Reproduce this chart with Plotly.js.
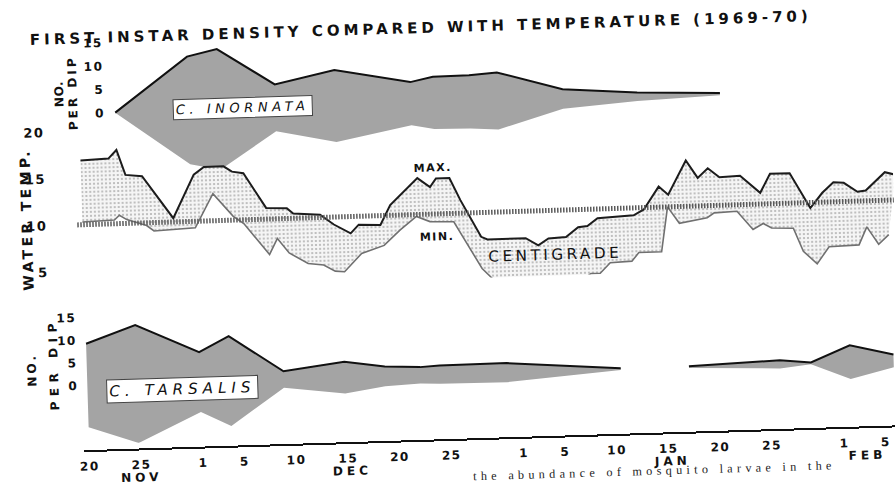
<!DOCTYPE html>
<html><head><meta charset="utf-8">
<script src="https://cdn.plot.ly/plotly-3.0.1.min.js"></script>
<style>
html,body{margin:0;padding:0;background:#fff;overflow:hidden;}
#chart{width:895px;height:486px;transform:rotate(-1.75deg);transform-origin:447.5px 243px;}
text{letter-spacing:1.5px;}
.gtitle{letter-spacing:4px;}
text[style*="font-size: 13.1px"]{letter-spacing:4.5px;}
text[style*="font-size: 15.1px"]{letter-spacing:5px;}
text[style*="font-size: 15.2px"]{letter-spacing:3.5px;}
text[style*="font-size: 14.1px"]{letter-spacing:3.3px;}
text[style*="font-size: 12.01px"]{letter-spacing:0.5px;}
text[style*="font-size: 12.02px"]{letter-spacing:3px;}
text[style*="font-size: 12.03px"]{letter-spacing:3px;}
text[style*="font-size: 12.04px"]{letter-spacing:5.5px;}
text[style*="font-size: 12.1px"]{letter-spacing:4px;}
text[style*="font-size: 12.2px"]{letter-spacing:4.3px;}
</style></head><body><div id="chart"></div>
<script>
// x values: days after 20 Nov 1969
const xTickDays   = [0,5,11,15,20,25,30,35,42,46,51,56,61,66,73,77];
const xTickLabels = ['20','25','1','5','10','15','20','25','1','5','10','15','20','25','1','5'];
const monthLabels = ['NOV','DEC','JAN','FEB'];
const monthDays   = [5,25.4,56.3,75.2];

// C. inornata, first instars per dip
const inornataDays   = [3.5,10.6,13.5,19,24.8,32.1,34.3,37.8,40.5,46.8,54,62];
const inornataPerDip = [0,11.5,12.9,5.0,7.7,4.6,5.6,5.7,6.1,2.1,0.9,0.25];

// C. tarsalis, first instars per dip (null = no record)
const tarsalisDays   = [0,4.8,10.9,13.8,19,24.9,28.8,32.2,34.1,40.6,51.6,null,58.2,67,70,73.8,78];
const tarsalisPerDip = [9.2,13.0,6.6,9.9,1.8,3.5,2.2,1.8,2.0,2.1,0.2,null,0.2,0.9,0.2,3.7,1.4];

// water temperature, centigrade
const maxDays = [0,2.7,3.5,4.3,5.9,8.8,10.9,11.9,13.8,14.6,15.7,17.8,19.8,20.4,23,24.3,25.9,26.7,28.8,29.8,32.5,33.7,34.3,35.6,36.6,38.5,39.1,42.8,44,45,46.7,47.9,48.8,49.8,53.3,54.3,55.8,56.7,58.5,59.6,60.6,61.7,63.7,65.6,66.6,68.5,70.4,71.6,72.7,73.7,75,75.8,77.7,78.7];
const maxTemp = [16.9,17.0,17.9,15.2,15.0,10.4,15.0,15.8,15.8,15.2,15.0,11.2,11.1,10.5,10.3,9.2,8.2,9.1,9.0,11.1,13.9,12.9,13.8,13.8,11.4,7.4,7.1,7.1,6.3,7.0,7.1,8.1,8.2,9.0,9.2,9.8,12.2,11.3,14.9,13.0,14.0,13.0,13.1,11.2,13.2,13.2,9.4,11.0,12.1,12.0,11.0,11.1,13.0,12.7];
const minDays = [0,3.1,3.6,4.3,6.2,6.9,10.9,12.7,14.6,15.6,18.0,18.8,19.9,21.7,23.2,24.3,25.2,26.9,29.1,30.7,32.3,33.6,35.9,38.5,39.9,47.9,49,49.9,50.9,53,53.7,55.9,56.6,57.7,60.4,61.1,63.3,64.8,65.8,66.6,68.7,69.6,70.9,72.1,75,75.8,76.9,77.9];
const minTemp = [10.3,10.4,10.9,10.4,9.7,9.1,9.3,12.9,10.4,9.6,6.2,7.9,6.3,5.1,4.9,4.2,4.1,6.0,6.8,8.4,9.8,9.2,9.1,4.0,2.4,2.2,3.1,3.1,4.2,4.3,5.2,5.2,10.0,8.2,8.7,9.2,9.3,7.3,7.9,7.4,7.3,4.8,3.4,5.2,5.3,7.2,5.3,6.3];
const thresholdTemp = 10;

const FONT = 'DejaVu Sans';

// symmetric kite polygons, split at null gaps
function kite(days, vals){
  const xs=[], ys=[];
  let segX=[], segY=[];
  const flush=()=>{
    if(segX.length){
      xs.push(...segX, ...segX.slice().reverse());
      ys.push(...segY, ...segY.slice().reverse().map(v=>-v));
      xs.push(null); ys.push(null);
    }
    segX=[]; segY=[];
  };
  days.forEach((d,i)=>{ if(d===null){flush();} else {segX.push(d); segY.push(vals[i]);} });
  flush();
  return {x:xs, y:ys};
}
const inK = kite(inornataDays, inornataPerDip);
const taK = kite(tarsalisDays, tarsalisPerDip);
const KITE_GRAY = '#a4a4a4';

const traces = [
  {x: maxDays.concat(minDays.slice().reverse()), y: maxTemp.concat(minTemp.slice().reverse()),
   yaxis:'y2', type:'scatter', mode:'lines', fill:'toself', fillcolor:'#f3f3f3',
   fillpattern:{shape:'.', bgcolor:'#f5f5f5', fgcolor:'#b2b2b2', size:4, solidity:0.22},
   line:{width:0}, hoverinfo:'skip'},
  {x: maxDays, y: maxTemp, yaxis:'y2', type:'scatter', mode:'lines', line:{color:'#1c1c1c', width:2}},
  {x: minDays, y: minTemp, yaxis:'y2', type:'scatter', mode:'lines', line:{color:'#707070', width:1.6}},
  {x: inK.x, y: inK.y, yaxis:'y', type:'scatter', mode:'lines', fill:'toself', fillcolor:KITE_GRAY,
   line:{width:0}, connectgaps:false},
  {x: inornataDays, y: inornataPerDip, yaxis:'y', type:'scatter', mode:'lines', line:{color:'#111', width:2}},
  {x: taK.x, y: taK.y, yaxis:'y3', type:'scatter', mode:'lines', fill:'toself', fillcolor:KITE_GRAY,
   line:{width:0}, connectgaps:false},
  {x: tarsalisDays, y: tarsalisPerDip, yaxis:'y3', type:'scatter', mode:'lines', line:{color:'#111', width:2}, connectgaps:false}
];

const bold = (size)=>({family:FONT, size:size, weight:'bold', color:'#111'});
const annotations = [
  {text:'C. INORNATA', x:15.8, y:0.3, xref:'x', yref:'y', xanchor:'center', yanchor:'middle', showarrow:false,
   bgcolor:'#fff', bordercolor:'#444', borderwidth:1, borderpad:2,
   font:{family:FONT, size:13.1, style:'italic', color:'#111'}},
  {text:'C. TARSALIS', x:9.2, y:-1.5, xref:'x', yref:'y3', xanchor:'center', yanchor:'middle', showarrow:false,
   bgcolor:'#fff', bordercolor:'#444', borderwidth:1, borderpad:2,
   font:{family:FONT, size:15.1, style:'italic', color:'#111'}},
  {text:'MAX.', x:34.0, y:14.9, xref:'x', yref:'y2', xanchor:'center', yanchor:'middle', showarrow:false, font:bold(11)},
  {text:'MIN.', x:34.2, y:7.5, xref:'x', yref:'y2', xanchor:'center', yanchor:'middle', showarrow:false, font:bold(11)},
  {text:'CENTIGRADE', x:45.6, y:5.2, xref:'x', yref:'y2', xanchor:'center', yanchor:'middle', showarrow:false,
   font:{family:FONT, size:15.2, color:'#111'}},
  {text:'WATER TEMP.', x:-0.0616, y:0.5543, xref:'paper', yref:'paper', xanchor:'center', yanchor:'middle', textangle:-90, showarrow:false, font:bold(14.1)},
  {text:'NO.', x:-0.0177, y:0.8507, xref:'paper', yref:'paper', xanchor:'center', yanchor:'middle', textangle:-90, showarrow:false, font:bold(12.01)},
  {text:'PER DIP', x:-0.0005, y:0.8545, xref:'paper', yref:'paper', xanchor:'center', yanchor:'middle', textangle:-90, showarrow:false, font:bold(12.02)},
  {text:'NO.', x:-0.0605, y:0.1969, xref:'paper', yref:'paper', xanchor:'center', yanchor:'middle', textangle:-90, showarrow:false, font:bold(12.03)},
  {text:'PER DIP', x:-0.0339, y:0.2095, xref:'paper', yref:'paper', xanchor:'center', yanchor:'middle', textangle:-90, showarrow:false, font:bold(12.04)}
];
monthLabels.forEach((m,i)=>annotations.push({text:m, x:monthDays[i], y:-0.0667, xref:'x', yref:'paper',
  xanchor:'center', yanchor:'middle', showarrow:false, font:bold(12.1)}));
annotations.push({text:'the abundance of mosquito larvae in the', x:0.4734, y:-0.1083, xref:'paper', yref:'paper',
  xanchor:'left', yanchor:'bottom', borderpad:0, showarrow:false, font:{family:'Liberation Serif', size:12.2, color:'#222'}});

const tickFont = bold(12);
const layout = {
  width:895, height:486,
  margin:{l:78, r:0, t:20, b:46},
  paper_bgcolor:'#fff', plot_bgcolor:'rgba(0,0,0,0)',
  showlegend:false,
  font:{family:FONT, color:'#111', size:12},
  title:{text:'FIRST INSTAR DENSITY COMPARED WITH TEMPERATURE (1969-70)', x:0.0406, xref:'container', xanchor:'left',
         y:0.9444, yref:'container', yanchor:'middle', font:bold(15)},
  xaxis:{range:[-0.5,78.5], tickmode:'array', tickvals:xTickDays, ticktext:xTickLabels, showgrid:false, zeroline:false,
         showline:true, linecolor:'#111', linewidth:2, ticks:'', anchor:'free', position:0, tickfont:tickFont, ticklabelstandoff:4},
  yaxis:{domain:[0.6474,0.9817], range:[-14,16], tickmode:'array', tickvals:[0,5,10,15], anchor:'free', position:0.0404,
         showgrid:false, zeroline:false, showline:false, ticks:'', ticklabelstandoff:2, tickfont:tickFont},
  yaxis2:{domain:[0.3836,0.7834], range:[3,21], tickmode:'array', tickvals:[5,10,15,20], anchor:'free', position:0,
         showgrid:false, zeroline:false, showline:false, ticks:'', ticklabelstandoff:30, tickfont:bold(13)},
  yaxis3:{domain:[0.0157,0.3183], range:[-13,15], tickmode:'array', tickvals:[0,5,10,15], anchor:'free', position:0,
         showgrid:false, zeroline:false, showline:false, ticks:'', ticklabelstandoff:4, tickfont:tickFont},
  shapes:[{type:'line', xref:'paper', x0:0, x1:1, yref:'y2', y0:thresholdTemp, y1:thresholdTemp, layer:'above',
           line:{color:'#5a5a5a', width:5, dash:'1.5px,1.5px'}}],
  annotations: annotations
};
Plotly.newPlot('chart', traces, layout, {staticPlot:true});
</script></body></html>
